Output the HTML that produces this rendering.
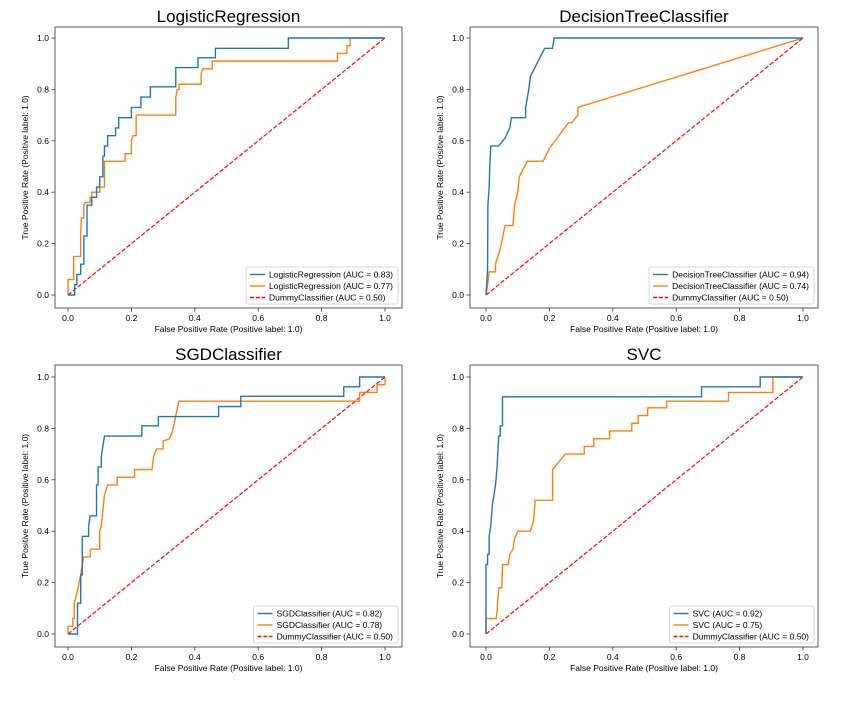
<!DOCTYPE html>
<html><head><meta charset="utf-8">
<style>
html,body{margin:0;padding:0;background:#fff;width:850px;height:705px;overflow:hidden}
svg{font-family:"Liberation Sans","DejaVu Sans",sans-serif}
</style></head>
<body>
<svg id="fig" width="850" height="705" viewBox="0 0 850 705" xmlns="http://www.w3.org/2000/svg"></svg>
<script>
const titles = ["LogisticRegression","DecisionTreeClassifier","SGDClassifier","SVC"];
const aucBlue = ["0.83","0.94","0.82","0.92"];
const aucOrange = ["0.77","0.74","0.78","0.75"];
const ticks = [0,0.2,0.4,0.6,0.8,1.0];
const tickLabels = ["0.0","0.2","0.4","0.6","0.8","1.0"];
const lrBlue = [[0,0],[0.021,0],[0.021,0.04],[0.028,0.04],[0.028,0.08],[0.04,0.08],[0.04,0.12],[0.05,0.12],[0.05,0.23],[0.06,0.23],[0.06,0.35],[0.075,0.35],[0.075,0.38],[0.09,0.38],[0.09,0.42],[0.1,0.42],[0.1,0.46],[0.11,0.46],[0.11,0.54],[0.115,0.54],[0.115,0.58],[0.125,0.58],[0.125,0.62],[0.15,0.62],[0.15,0.65],[0.16,0.65],[0.16,0.69],[0.2,0.69],[0.2,0.73],[0.23,0.73],[0.23,0.77],[0.26,0.77],[0.26,0.81],[0.34,0.81],[0.34,0.885],[0.41,0.885],[0.41,0.923],[0.465,0.923],[0.465,0.96],[0.695,0.96],[0.695,1],[1,1]];
const lrOrange = [[0,0],[0,0.06],[0.018,0.06],[0.018,0.15],[0.04,0.15],[0.04,0.24],[0.042,0.3],[0.05,0.3],[0.05,0.35],[0.055,0.36],[0.07,0.36],[0.07,0.38],[0.075,0.38],[0.075,0.4],[0.1,0.4],[0.1,0.42],[0.115,0.42],[0.115,0.52],[0.18,0.52],[0.18,0.55],[0.2,0.55],[0.2,0.6],[0.205,0.62],[0.215,0.62],[0.215,0.7],[0.34,0.7],[0.34,0.77],[0.345,0.8],[0.35,0.8],[0.35,0.82],[0.42,0.82],[0.42,0.86],[0.425,0.88],[0.455,0.88],[0.455,0.91],[0.85,0.91],[0.85,0.94],[0.88,0.94],[0.88,0.97],[0.89,0.97],[0.89,1],[1,1]];
const dtBlue = [[0,0],[0.005,0.1],[0.006,0.35],[0.01,0.42],[0.012,0.5],[0.015,0.58],[0.04,0.58],[0.06,0.61],[0.075,0.65],[0.08,0.69],[0.125,0.69],[0.125,0.73],[0.135,0.8],[0.14,0.85],[0.185,0.96],[0.21,0.96],[0.215,1],[1,1]];
const dtOrange = [[0,0],[0.005,0.04],[0.01,0.09],[0.03,0.09],[0.03,0.12],[0.045,0.18],[0.06,0.27],[0.085,0.27],[0.09,0.35],[0.1,0.4],[0.105,0.46],[0.13,0.52],[0.18,0.52],[0.2,0.57],[0.26,0.67],[0.27,0.67],[0.29,0.7],[0.29,0.73],[1,1]];
const sgdBlue = [[0,0],[0.03,0],[0.03,0.12],[0.04,0.12],[0.04,0.23],[0.045,0.23],[0.045,0.38],[0.065,0.38],[0.065,0.42],[0.07,0.46],[0.09,0.46],[0.09,0.58],[0.095,0.58],[0.095,0.65],[0.105,0.65],[0.105,0.69],[0.115,0.77],[0.233,0.77],[0.233,0.81],[0.285,0.81],[0.285,0.846],[0.475,0.846],[0.475,0.885],[0.545,0.885],[0.545,0.925],[0.87,0.925],[0.87,0.962],[0.92,0.962],[0.92,1],[1,1]];
const sgdOrange = [[0,0],[0,0.03],[0.015,0.03],[0.015,0.06],[0.02,0.06],[0.02,0.12],[0.03,0.17],[0.035,0.2],[0.04,0.23],[0.045,0.27],[0.05,0.3],[0.07,0.3],[0.07,0.33],[0.1,0.33],[0.1,0.4],[0.105,0.42],[0.11,0.48],[0.115,0.54],[0.12,0.56],[0.125,0.58],[0.155,0.58],[0.155,0.61],[0.21,0.61],[0.21,0.64],[0.265,0.64],[0.27,0.69],[0.28,0.72],[0.3,0.72],[0.3,0.75],[0.32,0.76],[0.33,0.79],[0.34,0.85],[0.35,0.906],[0.92,0.906],[0.92,0.94],[0.975,0.94],[0.975,0.97],[1,0.97],[1,1]];
const svcBlue = [[0,0],[0,0.27],[0.005,0.27],[0.005,0.31],[0.01,0.31],[0.01,0.38],[0.015,0.42],[0.02,0.5],[0.025,0.54],[0.03,0.58],[0.035,0.65],[0.04,0.77],[0.045,0.77],[0.045,0.81],[0.052,0.81],[0.052,0.923],[0.68,0.923],[0.68,0.962],[0.865,0.962],[0.865,1],[1,1]];
const svcOrange = [[0,0],[0,0.06],[0.032,0.06],[0.035,0.09],[0.04,0.18],[0.05,0.18],[0.052,0.27],[0.07,0.27],[0.075,0.31],[0.085,0.33],[0.09,0.37],[0.1,0.4],[0.14,0.4],[0.15,0.44],[0.155,0.52],[0.21,0.52],[0.21,0.64],[0.23,0.67],[0.25,0.7],[0.31,0.7],[0.31,0.73],[0.34,0.73],[0.34,0.76],[0.39,0.76],[0.39,0.79],[0.46,0.79],[0.46,0.82],[0.48,0.82],[0.48,0.85],[0.51,0.85],[0.51,0.88],[0.57,0.88],[0.57,0.906],[0.765,0.906],[0.765,0.94],[0.905,0.94],[0.905,1],[1,1]];
const blues = [lrBlue, dtBlue, sgdBlue, svcBlue];
const oranges = [lrOrange, dtOrange, sgdOrange, svcOrange];

const panels = [
 {L:55,R:402,T:27,B:308,x0:68,x1:385,y0:295,y1:38},
 {L:470,R:818,T:27,B:308,x0:486,x1:803,y0:295,y1:38},
 {L:55,R:402,T:365,B:647,x0:68,x1:385,y0:634,y1:377},
 {L:470,R:818,T:365,B:647,x0:486,x1:803,y0:634,y1:377}
];
const NS="http://www.w3.org/2000/svg";
const svg=document.getElementById('fig');
function mk(tag,attrs,parent){const e=document.createElementNS(NS,tag);for(const k in attrs)e.setAttribute(k,attrs[k]);(parent||svg).appendChild(e);return e;}
panels.forEach((p,i)=>{
  const g=mk('g',{});
  
  
  const sx=v=>p.x0+v*(p.x1-p.x0), sy=v=>p.y0+v*(p.y1-p.y0);
  const fr=mk('rect',{x:p.L,y:p.T,width:p.R-p.L,height:p.B-p.T,fill:'none',stroke:'#333','stroke-width':0.8},g);
  
  
  const t=mk('text',{x:(p.L+p.R)/2,y:p.T-5,'text-anchor':'middle','font-size':17,fill:'#000'},g);
  t.textContent=titles[i];
  
  
  ticks.forEach((v,k)=>{
    mk('line',{x1:sx(v),x2:sx(v),y1:p.B,y2:p.B+3.5,stroke:'#333','stroke-width':0.8},g);
    const xl=mk('text',{x:sx(v),y:p.B+13,'text-anchor':'middle','font-size':8.5,fill:'#000'},g);
    xl.textContent=tickLabels[k];
    
    
    mk('line',{x1:p.L-3.5,x2:p.L,y1:sy(v),y2:sy(v),stroke:'#333','stroke-width':0.8},g);
    const yl=mk('text',{x:p.L-6,y:sy(v)+3,'text-anchor':'end','font-size':8.5,fill:'#000'},g);
    yl.textContent=tickLabels[k];
    
    
  });
  const xt=mk('text',{x:(p.L+p.R)/2,y:p.B+24,'text-anchor':'middle','font-size':8.5,fill:'#000'},g);
  xt.textContent='False Positive Rate (Positive label: 1.0)';
  
  
  const cy=(p.T+p.B)/2, cx=p.L-27;
  const yt=mk('text',{x:cx,y:cy,'text-anchor':'middle','font-size':8.5,fill:'#000',transform:`rotate(-90 ${cx} ${cy})`},g);
  yt.textContent='True Positive Rate (Positive label: 1.0)';
  
  
  const dl=mk('line',{x1:sx(0),y1:sy(0),x2:sx(1),y2:sy(1),stroke:'#ff0000','stroke-width':1.2,'stroke-dasharray':'4.4,1.9'},g);
  
  
  const ol=mk('polyline',{points:oranges[i].map(d=>sx(d[0])+','+sy(d[1])).join(' '),fill:'none',stroke:'#ff7f0e','stroke-width':1.4},g);
  
  
  const bl=mk('polyline',{points:blues[i].map(d=>sx(d[0])+','+sy(d[1])).join(' '),fill:'none',stroke:'#1f77b4','stroke-width':1.4},g);
  
  
  // legend
  const labels=[titles[i]+' (AUC = '+aucBlue[i]+')',titles[i]+' (AUC = '+aucOrange[i]+')','DummyClassifier (AUC = 0.50)'];
  const lg=mk('g',{},g);
  
  
  const box=mk('rect',{rx:2,fill:'#fff','fill-opacity':0.85,stroke:'#ccc','stroke-width':0.8},lg);
  const cols=['#1f77b4','#ff7f0e','#ff0000'];
  const texts=[],lines=[];
  labels.forEach((s,k)=>{
    const ln=mk('line',{stroke:cols[k],'stroke-width':1.4},lg);
    if(k===2) ln.setAttribute('stroke-dasharray','4,1.8');
    const tx=mk('text',{'font-size':8.5,fill:'#000'},lg);
    tx.textContent=s;
    
    
    texts.push(tx);lines.push(ln);
  });
  const tw=Math.max(...texts.map(t=>t.getComputedTextLength()));
  const w=tw+28, h=37, lx=p.R-4-w, ly=p.B-4-h;
  box.setAttribute('x',lx);box.setAttribute('y',ly);box.setAttribute('width',w);box.setAttribute('height',h);
  texts.forEach((tx,k)=>{
    const yy=ly+7.5+k*11.5;
    lines[k].setAttribute('x1',lx+4);lines[k].setAttribute('x2',lx+19);
    lines[k].setAttribute('y1',yy);lines[k].setAttribute('y2',yy);
    tx.setAttribute('x',lx+23);tx.setAttribute('y',yy+3);
  });
});
</script>
</body></html>
